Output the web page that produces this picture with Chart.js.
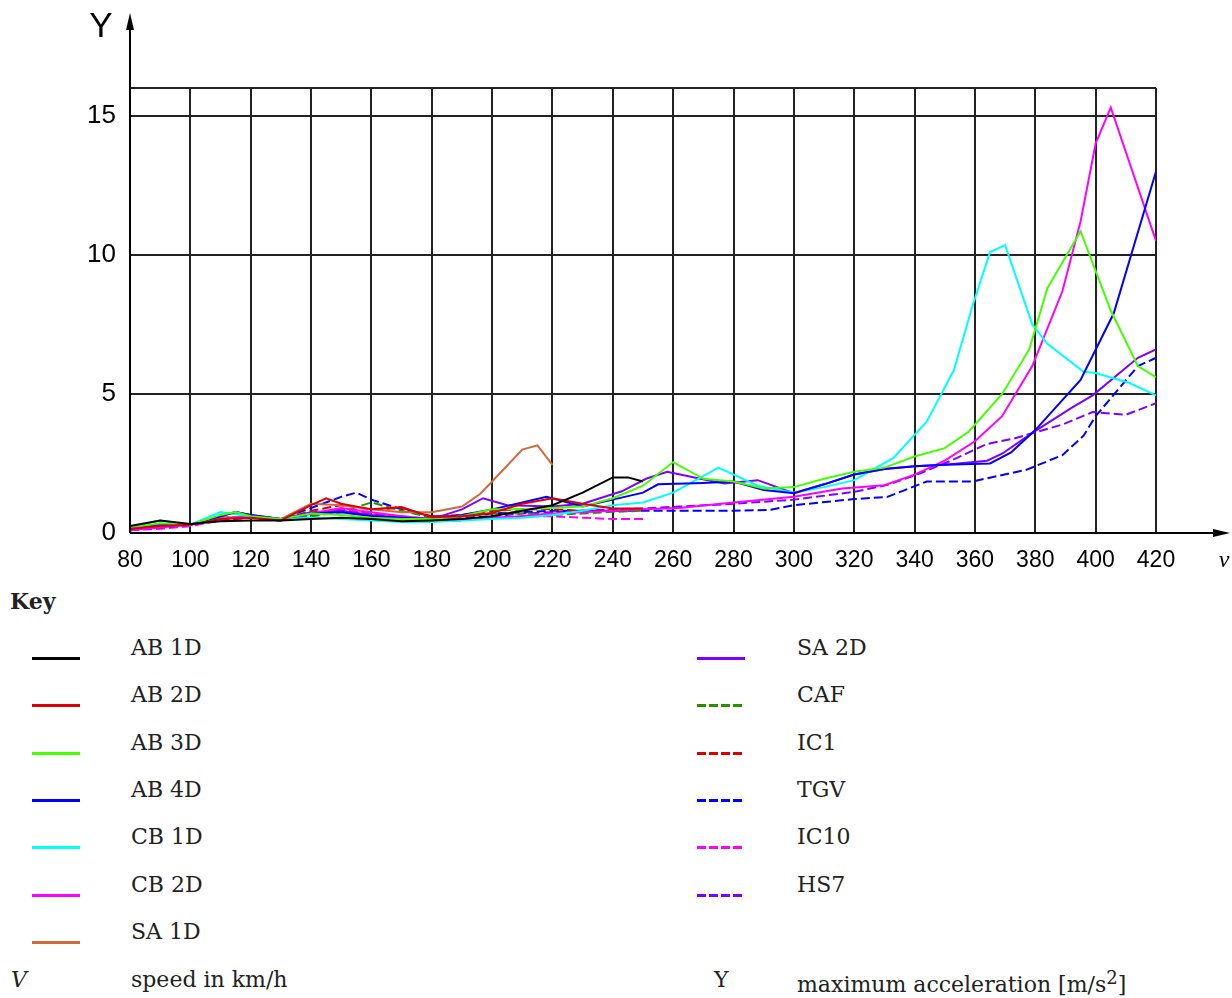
<!DOCTYPE html>
<html>
<head>
<meta charset="utf-8">
<script src="https://cdn.jsdelivr.net/npm/chart.js@4"></script>
<style>
  body { margin: 0; background: #fff; width: 1232px; height: 998px; position: relative; overflow: hidden; }
  #wrap { position: absolute; left: 0; top: 0; width: 1232px; height: 580px; }
  .key { position: absolute; font-family: "DejaVu Serif", serif; font-size: 22px; color: #222; line-height: 24px; white-space: nowrap; }
  .sw { position: absolute; width: 48px; height: 3px; }
</style>
</head>
<body>
<div id="wrap"><canvas id="canvas" width="1232" height="580"></canvas></div>
<div id="key"></div>
<script>
// speed (km/h) and max acceleration (m/s2) per vehicle
const ab1dSpeed = [80, 90, 100, 110, 120, 130, 140, 150, 160, 170, 180, 190, 200, 210, 220, 230, 240, 245, 250];
const ab1dAcc   = [0.25, 0.45, 0.32, 0.42, 0.45, 0.45, 0.5, 0.55, 0.5, 0.42, 0.45, 0.5, 0.6, 0.8, 1.0, 1.45, 2.0, 2.0, 1.85];

const ab2dSpeed = [80, 90, 100, 110, 120, 130, 140, 145, 150, 160, 170, 180, 190, 200, 210, 220, 230, 240, 250];
const ab2dAcc   = [0.15, 0.25, 0.3, 0.5, 0.55, 0.45, 1.0, 1.25, 1.05, 0.85, 0.93, 0.57, 0.6, 0.72, 1.05, 1.25, 1.05, 0.88, 0.88];

const ab3dSpeed = [80, 90, 100, 110, 115, 120, 130, 140, 150, 160, 170, 180, 190, 200, 210, 220, 230, 240, 250, 260, 270, 280, 290, 300, 310, 320, 330, 340, 350, 358, 369, 378, 384, 395, 405, 414, 420];
const ab3dAcc   = [0.2, 0.35, 0.3, 0.65, 0.75, 0.6, 0.5, 0.7, 0.65, 0.55, 0.5, 0.5, 0.6, 0.85, 0.85, 0.9, 0.95, 1.25, 1.7, 2.55, 1.95, 1.85, 1.6, 1.65, 1.95, 2.2, 2.35, 2.75, 3.05, 3.65, 5.0, 6.6, 8.8, 10.85, 8.0, 6.0, 5.6];

const ab4dSpeed = [80, 90, 100, 110, 115, 120, 130, 140, 150, 160, 170, 180, 190, 200, 210, 218, 230, 240, 250, 255, 270, 280, 290, 300, 310, 320, 330, 340, 350, 365, 372, 380, 395, 406, 420];
const ab4dAcc   = [0.15, 0.3, 0.3, 0.6, 0.75, 0.65, 0.5, 0.7, 0.75, 0.6, 0.55, 0.5, 0.65, 0.85, 1.1, 1.3, 0.95, 1.2, 1.45, 1.75, 1.8, 1.85, 1.55, 1.43, 1.75, 2.1, 2.3, 2.4, 2.45, 2.5, 2.9, 3.7, 5.5, 7.9, 13.0];

const cb1dSpeed = [80, 90, 100, 110, 120, 130, 140, 150, 160, 170, 180, 190, 200, 210, 220, 230, 240, 250, 260, 275, 288, 300, 310, 320, 333, 344, 353, 359, 365, 370, 379, 384, 396, 400, 411, 420];
const cb1dAcc   = [0.2, 0.45, 0.3, 0.75, 0.6, 0.5, 0.55, 0.5, 0.45, 0.4, 0.4, 0.45, 0.5, 0.55, 0.65, 0.8, 1.0, 1.1, 1.45, 2.35, 1.7, 1.45, 1.65, 1.9, 2.7, 4.0, 5.85, 8.1, 10.1, 10.35, 7.5, 6.8, 5.8, 5.75, 5.4, 4.95];

const cb2dSpeed = [80, 90, 100, 110, 120, 130, 140, 150, 160, 170, 180, 190, 200, 210, 220, 230, 240, 250, 262, 280, 300, 316, 330, 340, 350, 360, 369, 379, 389, 395, 400, 405, 420];
const cb2dAcc   = [0.1, 0.2, 0.3, 0.5, 0.6, 0.45, 0.7, 0.9, 0.75, 0.6, 0.5, 0.5, 0.55, 0.6, 0.7, 0.75, 0.8, 0.85, 0.9, 1.1, 1.3, 1.6, 1.72, 2.1, 2.6, 3.3, 4.2, 6.0, 8.7, 11.2, 14.0, 15.3, 10.5];

const sa1dSpeed = [80, 90, 100, 110, 120, 130, 140, 150, 160, 170, 180, 190, 196, 200, 210, 215, 220];
const sa1dAcc   = [0.2, 0.3, 0.3, 0.55, 0.6, 0.5, 1.05, 1.0, 0.85, 0.75, 0.75, 0.95, 1.4, 1.85, 3.0, 3.15, 2.45];

const sa2dSpeed = [80, 90, 100, 110, 115, 120, 130, 140, 150, 160, 170, 180, 190, 197, 205, 220, 230, 243, 251, 258, 269, 277, 288, 300, 310, 320, 330, 340, 350, 364, 369, 379, 392, 399, 414, 420];
const sa2dAcc   = [0.15, 0.25, 0.3, 0.6, 0.75, 0.65, 0.5, 0.75, 0.8, 0.65, 0.55, 0.5, 0.85, 1.25, 1.0, 0.95, 1.05, 1.5, 1.95, 2.2, 1.95, 1.78, 1.9, 1.43, 1.75, 2.1, 2.3, 2.4, 2.45, 2.6, 2.85, 3.6, 4.5, 4.95, 6.3, 6.6];

const cafSpeed = [80, 90, 100, 110, 120, 130, 140, 150, 160, 170, 180, 190, 200, 210, 220, 230, 240, 250];
const cafAcc   = [0.15, 0.3, 0.3, 0.55, 0.6, 0.5, 0.6, 0.75, 1.1, 0.8, 0.55, 0.6, 0.7, 0.7, 0.65, 0.7, 0.76, 0.8];

const ic1Speed = [80, 90, 100, 110, 120, 130, 140, 150, 160, 170, 180, 190, 200, 210, 220, 230, 240, 250];
const ic1Acc   = [0.1, 0.25, 0.3, 0.5, 0.55, 0.45, 0.8, 1.0, 0.85, 0.9, 0.6, 0.65, 0.8, 0.85, 0.85, 0.8, 0.8, 0.85];

const tgvSpeed = [80, 90, 100, 110, 120, 130, 140, 150, 155, 160, 170, 180, 190, 200, 210, 220, 240, 260, 280, 292, 300, 320, 331, 344, 359, 377, 389, 396, 400, 414, 420];
const tgvAcc   = [0.1, 0.2, 0.3, 0.5, 0.55, 0.5, 0.9, 1.3, 1.45, 1.2, 0.85, 0.6, 0.6, 0.7, 0.75, 0.8, 0.8, 0.8, 0.8, 0.83, 1.0, 1.22, 1.3, 1.85, 1.85, 2.27, 2.8, 3.5, 4.2, 6.0, 6.3];

const ic10Speed = [80, 90, 100, 110, 120, 130, 140, 150, 160, 170, 180, 190, 200, 210, 220, 230, 240, 250];
const ic10Acc   = [0.1, 0.15, 0.25, 0.45, 0.55, 0.45, 0.6, 0.85, 0.7, 0.55, 0.45, 0.45, 0.55, 0.6, 0.6, 0.55, 0.5, 0.5];

const hs7Speed = [80, 90, 100, 110, 120, 130, 140, 150, 160, 170, 180, 190, 200, 210, 220, 230, 240, 250, 262, 280, 300, 320, 331, 342, 352, 364, 373, 389, 399, 410, 420];
const hs7Acc   = [0.1, 0.2, 0.25, 0.5, 0.55, 0.45, 0.65, 0.8, 0.7, 0.6, 0.5, 0.55, 0.6, 0.7, 0.75, 0.8, 0.85, 0.88, 0.95, 1.05, 1.2, 1.48, 1.73, 2.15, 2.6, 3.2, 3.4, 3.9, 4.35, 4.25, 4.67];

const xTicks = [80, 100, 120, 140, 160, 180, 200, 220, 240, 260, 280, 300, 320, 340, 360, 380, 400, 420];
const yTicks = [0, 5, 10, 15];

const series = [
  { name: 'AB 1D', speed: ab1dSpeed, acc: ab1dAcc, color: '#000000', dashed: false },
  { name: 'AB 2D', speed: ab2dSpeed, acc: ab2dAcc, color: '#dd0000', dashed: false },
  { name: 'AB 3D', speed: ab3dSpeed, acc: ab3dAcc, color: '#44ff00', dashed: false },
  { name: 'AB 4D', speed: ab4dSpeed, acc: ab4dAcc, color: '#0000ff', dashed: false },
  { name: 'CB 1D', speed: cb1dSpeed, acc: cb1dAcc, color: '#00ffff', dashed: false },
  { name: 'CB 2D', speed: cb2dSpeed, acc: cb2dAcc, color: '#ff00ff', dashed: false },
  { name: 'SA 1D', speed: sa1dSpeed, acc: sa1dAcc, color: '#d2693a', dashed: false },
  { name: 'SA 2D', speed: sa2dSpeed, acc: sa2dAcc, color: '#8000ff', dashed: false },
  { name: 'CAF', speed: cafSpeed, acc: cafAcc, color: '#2a9000', dashed: true },
  { name: 'IC1', speed: ic1Speed, acc: ic1Acc, color: '#dd0000', dashed: true },
  { name: 'TGV', speed: tgvSpeed, acc: tgvAcc, color: '#0000ff', dashed: true },
  { name: 'IC10', speed: ic10Speed, acc: ic10Acc, color: '#ff00ff', dashed: true },
  { name: 'HS7', speed: hs7Speed, acc: hs7Acc, color: '#8000ff', dashed: true }
];

// axes with arrows, drawn over the chart area edges
const arrowAxes = {
  id: 'arrowAxes',
  afterDraw(chart) {
    const c = chart.ctx, a = chart.chartArea;
    c.save();
    c.strokeStyle = '#000';
    c.fillStyle = '#000';
    c.lineWidth = 2;
    c.beginPath();
    c.moveTo(a.left, a.bottom); c.lineTo(a.left, 24);
    c.moveTo(a.left, a.bottom); c.lineTo(1215, a.bottom);
    c.stroke();
    c.beginPath();
    c.moveTo(a.left, 13); c.lineTo(a.left - 4, 30); c.lineTo(a.left + 4, 30); c.closePath();
    c.fill();
    c.beginPath();
    c.moveTo(1230, a.bottom); c.lineTo(1213, a.bottom - 4); c.lineTo(1213, a.bottom + 4); c.closePath();
    c.fill();
    c.font = '35px "Liberation Sans", Arial, sans-serif';
    c.textAlign = 'center';
    c.textBaseline = 'middle';
    c.fillText('Y', 101, 27);
    c.font = 'italic 24px "Liberation Serif", serif';
    c.textBaseline = 'alphabetic';
    c.fillText('v', 1224, 567);
    c.restore();
  }
};

var ctx = document.getElementById('canvas').getContext('2d');
var chart = new Chart(ctx, {
  type: 'line',
  data: {
    datasets: series.map(function(s) {
      return {
        label: s.name,
        data: s.speed.map(function(v, i) { return { x: v, y: s.acc[i] }; }),
        borderColor: s.color,
        backgroundColor: 'transparent',
        borderWidth: 2,
        borderDash: s.dashed ? [9, 4] : [],
        pointRadius: 0,
        tension: 0
      };
    })
  },
  options: {
    responsive: false,
    animation: false,
    events: [],
    layout: { padding: { top: 88, right: 76, left: 0, bottom: 0 } },
    plugins: { legend: { display: false }, tooltip: { enabled: false } },
    scales: {
      x: {
        type: 'linear',
        min: 80,
        max: 420,
        afterBuildTicks: function(scale) { scale.ticks = xTicks.map(function(v) { return { value: v }; }); },
        afterFit: function(scale) { scale.height = 47; },
        grid: { color: '#222', lineWidth: 2, drawTicks: false },
        border: { display: false },
        ticks: { color: '#000', padding: 14, maxRotation: 0, font: { family: '"Liberation Sans", Arial, sans-serif', size: 23 } }
      },
      y: {
        min: 0,
        max: 16,
        afterBuildTicks: function(scale) {
          scale.ticks = yTicks.concat([16]).map(function(v) { return { value: v }; });
        },
        afterFit: function(scale) { scale.width = 130; },
        grid: { color: '#222', lineWidth: 2, drawTicks: false },
        border: { display: false },
        ticks: {
          color: '#000', padding: 14,
          font: { family: '"Liberation Sans", Arial, sans-serif', size: 26 },
          callback: function(v) { return yTicks.indexOf(v) >= 0 ? v : ''; }
        }
      }
    }
  },
  plugins: [arrowAxes]
});

// key below the chart, built from the same series list
const key = document.getElementById('key');
function addText(txt, left, centerY, extra) {
  const d = document.createElement('div');
  d.className = 'key';
  d.style.left = left + 'px';
  d.style.top = (centerY - 12) + 'px';
  if (extra) d.style.cssText += extra;
  d.innerHTML = txt;
  key.appendChild(d);
}
addText('Key', 10, 601, 'font-weight:bold;font-size:22px;');
series.forEach(function(s, i) {
  const col = i < 7 ? 0 : 1;
  const row = col === 0 ? i : i - 7;
  const cy = 648 + row * 47.3;
  const sw = document.createElement('div');
  sw.className = 'sw';
  sw.style.left = (col === 0 ? 32 : 697) + 'px';
  sw.style.top = (cy + 9) + 'px';
  sw.style.background = s.dashed
    ? 'repeating-linear-gradient(90deg,' + s.color + ' 0 9px, transparent 9px 12px)'
    : s.color;
  key.appendChild(sw);
  addText(s.name, col === 0 ? 131 : 797, cy);
});
addText('<i>V</i>', 11, 980);
addText('speed in km/h', 131, 980);
addText('Y', 714, 980);
addText('maximum acceleration [m/s<sup style="font-size:18px;line-height:0">2</sup>]', 797, 985);
</script>
</body>
</html>
